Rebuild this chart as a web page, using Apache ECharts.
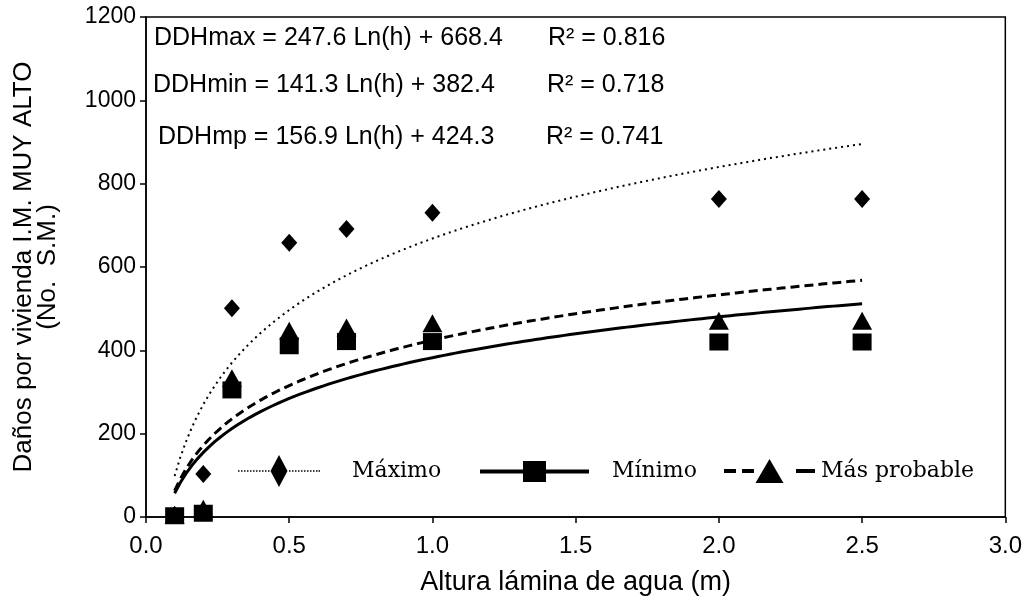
<!DOCTYPE html>
<html>
<head>
<meta charset="utf-8">
<title>Daños por vivienda – I.M. muy alto</title>
<script src="https://cdn.jsdelivr.net/npm/echarts@6/dist/echarts.min.js"></script>
<style>
  html, body { margin: 0; padding: 0; background: #fff; }
  #chart { width: 1025px; height: 605px; }
</style>
</head>
<body>
<div id="chart"></div>
<script>
// Water depth (m) at which damages were surveyed
const depths = [0.1, 0.2, 0.3, 0.5, 0.7, 1.0, 2.0, 2.5];

// Damage per dwelling (No. S.M.) for each depth
const damageMax = [5, 103, 501, 658, 691, 730, 763, 763];
const damageMin = [3, 9, 305, 411, 421, 421, 420, 420];
const damageProbable = [5, 20, 333, 447, 455, 465, 471, 471];

// Logarithmic fits y = a·Ln(h) + b, with their R²
const fitMax = [247.6, 668.4, 0.816];
const fitMin = [141.3, 382.4, 0.718];
const fitProbable = [156.9, 424.3, 0.741];

const seriesNames = ['Máximo', 'Mínimo', 'Más probable'];
const equationNames = ['DDHmax', 'DDHmin', 'DDHmp'];

const xTicks = [0, 0.5, 1.0, 1.5, 2.0, 2.5, 3.0];
const yTicks = [0, 200, 400, 600, 800, 1000, 1200];

// Fitted curve sampled over the surveyed depth range
function fitCurve(fit) {
  const pts = [];
  const h0 = depths[0], h1 = depths[depths.length - 1];
  const n = 120;
  for (let i = 0; i <= n; i++) {
    const h = h0 + (h1 - h0) * i / n;
    pts.push([h, fit[0] * Math.log(h) + fit[1]]);
  }
  return pts;
}

function pairs(ys) { return depths.map((x, i) => [x, ys[i]]); }

function eqText(name, fit) {
  return name + ' = ' + fit[0].toFixed(1) + ' Ln(h) + ' + fit[1].toFixed(1);
}

// ---- legend icons: line sample + marker drawn as one filled path ----
function rectPath(x0, y0, x1, y1) {
  return 'M' + x0 + ' ' + y0 + 'L' + x1 + ' ' + y0 + 'L' + x1 + ' ' + y1 + 'L' + x0 + ' ' + y1 + 'Z';
}
function markerPath(kind, cx, w, h) {
  const l = cx - w / 2, r = cx + w / 2;
  if (kind === 'diamond') return 'M' + l + ' ' + h / 2 + 'L' + cx + ' 0L' + r + ' ' + h / 2 + 'L' + cx + ' ' + h + 'Z';
  if (kind === 'rect') return rectPath(l, 0, r, h);
  return 'M' + l + ' ' + h + 'L' + cx + ' 0L' + r + ' ' + h + 'Z';
}
// dash = [on, off]; on === 0 means a continuous line
function legendIcon(width, height, thick, dash, kind, mw) {
  const cy = height / 2, y0 = cy - thick / 2, y1 = cy + thick / 2;
  const cx = width / 2;
  let d = '';
  if (dash[0] === 0) {
    d += rectPath(0, y0, width, y1);
  } else {
    for (let x = 0; x < width; x += dash[0] + dash[1]) {
      const e = Math.min(x + dash[0], width);
      if (e <= cx - mw / 2 || x >= cx + mw / 2) d += rectPath(x, y0, e, y1);
    }
    d += rectPath(width - dash[0], y0, width, y1);
  }
  d += markerPath(kind, cx, mw, height);
  return 'path://' + d;
}

const legendItems = [
  { name: seriesNames[0], left: 238, width: 82, height: 32, thick: 1.5, dash: [1.5, 1.5], kind: 'diamond', mw: 17, pad: 27 },
  { name: seriesNames[1], left: 480, width: 109, height: 21, thick: 4, dash: [0, 0], kind: 'rect', mw: 23, pad: 18 },
  { name: seriesNames[2], left: 724, width: 91, height: 24, thick: 4, dash: [12, 6], kind: 'triangle', mw: 28, pad: 1 }
];
const legendCenterY = 471;

const sans = '"Liberation Sans", Arial, sans-serif';
const serif = '"DejaVu Serif", "Liberation Serif", serif';
const gridLeft = 146, gridTop = 17, gridRight = 19, gridBottom = 88;

const chart = echarts.init(document.getElementById('chart'), null, { renderer: 'canvas' });

const eqRows = [
  { fit: fitMax, name: equationNames[0], top: 26, left: 154, rLeft: 548 },
  { fit: fitMin, name: equationNames[1], top: 73, left: 153, rLeft: 547 },
  { fit: fitProbable, name: equationNames[2], top: 125, left: 158, rLeft: 546 }
];

const graphics = [];
eqRows.forEach(r => {
  graphics.push({
    type: 'text', left: r.left, top: r.top,
    style: { text: eqText(r.name, r.fit), font: '25px ' + sans, fill: '#000' }
  });
  graphics.push({
    type: 'text', left: r.rLeft, top: r.top,
    style: { text: 'R² = ' + r.fit[2].toFixed(3), font: '25px ' + sans, fill: '#000' }
  });
});

const legends = legendItems.map(it => ({
  data: [{ name: it.name, icon: legendIcon(it.width, it.height, it.thick, it.dash, it.kind, it.mw) }],
  left: it.left, top: legendCenterY - it.height / 2, padding: 0,
  itemWidth: it.width, itemHeight: it.height, symbolKeepAspect: false,
  itemStyle: { color: '#000', borderWidth: 0 },
  textStyle: { fontFamily: serif, fontSize: 22, color: '#000', padding: [0, 0, 0, it.pad] },
  selectedMode: false
}));

const option = {
  animation: false,
  backgroundColor: '#fff',
  grid: {
    left: gridLeft, right: gridRight, top: gridTop, bottom: gridBottom,
    show: true, borderColor: '#000', borderWidth: 1.5, backgroundColor: 'transparent'
  },
  legend: legends,
  xAxis: {
    type: 'value', min: 0, max: 3, interval: 0.5,
    name: 'Altura lámina de agua (m)', nameLocation: 'middle', nameGap: 52,
    nameTextStyle: { fontFamily: sans, fontSize: 27, color: '#000' },
    axisLine: { show: true, lineStyle: { color: '#000', width: 1.5 } },
    axisTick: { show: true, inside: false, length: 6, lineStyle: { color: '#000', width: 1.5 } },
    axisLabel: { fontFamily: sans, fontSize: 24, color: '#000', margin: 17, formatter: v => v.toFixed(1) },
    splitLine: { show: false }
  },
  yAxis: {
    type: 'value', min: 0, max: 1200, interval: 200,
    name: 'Daños por vivienda I.M. MUY ALTO\n(No.  S.M.)', nameLocation: 'middle', nameGap: 86,
    nameTextStyle: { fontFamily: sans, fontSize: 26, color: '#000', lineHeight: 24 },
    axisLine: { show: true, lineStyle: { color: '#000', width: 1.5 } },
    axisTick: { show: true, inside: false, length: 6, lineStyle: { color: '#000', width: 1.5 } },
    axisLabel: { fontFamily: sans, fontSize: 23, color: '#000', margin: 10, formatter: v => String(v) },
    splitLine: { show: false }
  },
  graphic: graphics,
  series: [
    // Fitted curves
    {
      name: seriesNames[0], type: 'line', data: fitCurve(fitMax),
      symbol: 'diamond', showSymbol: false, z: 2,
      lineStyle: { color: '#000', width: 2, type: [2, 4] },
      itemStyle: { color: '#000' }
    },
    {
      name: seriesNames[1], type: 'line', data: fitCurve(fitMin),
      symbol: 'rect', showSymbol: false, z: 2,
      lineStyle: { color: '#000', width: 3, type: 'solid' },
      itemStyle: { color: '#000' }
    },
    {
      name: seriesNames[2], type: 'line', data: fitCurve(fitProbable),
      symbol: 'triangle', showSymbol: false, z: 2,
      lineStyle: { color: '#000', width: 3, type: [9, 5] },
      itemStyle: { color: '#000' }
    },
    // Observed values
    {
      name: seriesNames[0], type: 'scatter', data: pairs(damageMax),
      symbol: 'diamond', symbolSize: [16, 18], z: 3,
      itemStyle: { color: '#000', opacity: 1 }
    },
    {
      name: seriesNames[2], type: 'scatter', data: pairs(damageProbable),
      symbol: 'triangle', symbolSize: [20, 18], z: 3,
      itemStyle: { color: '#000', opacity: 1 }
    },
    {
      name: seriesNames[1], type: 'scatter', data: pairs(damageMin),
      symbol: 'rect', symbolSize: [19, 17], z: 4,
      itemStyle: { color: '#000', opacity: 1 }
    }
  ]
};

chart.setOption(option);
</script>
</body>
</html>
